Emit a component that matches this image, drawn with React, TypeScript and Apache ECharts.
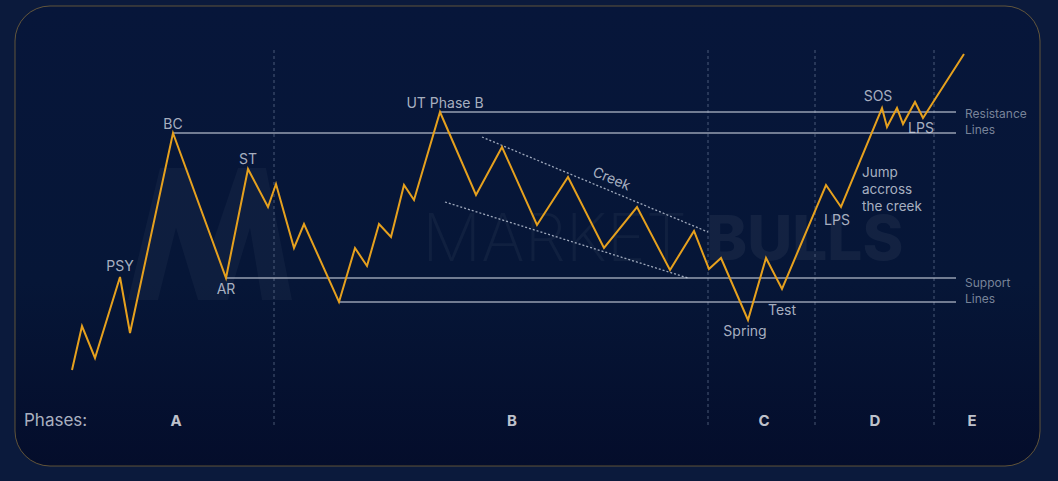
import React, { useEffect, useRef } from "react";
import * as echarts from "echarts";

// Price path (x = time units, y = chart units, inverted axis)
const pathX = [72, 82, 95, 120, 130, 173, 226, 248, 268, 276, 294, 304, 339, 355, 367, 379, 391, 404, 414, 440, 476, 502, 537, 568, 604, 637, 670, 694, 709, 721, 748, 766, 782, 826, 841, 882, 887, 897, 903, 915, 923, 964];
const pathY = [370, 326, 358, 277, 333, 133, 278, 169, 207, 184, 248, 224, 302, 248, 266, 224, 237, 185, 200, 112, 195, 147, 225, 177, 248, 207, 270, 231, 269, 258, 320, 258, 289, 185, 207, 108, 127, 108, 124, 102, 118, 54];

// Horizontal levels: start x, common end x, level y
const levelStarts = [440, 173, 226, 339];
const levelEnd = 956;
const levelYs = [112, 133, 278, 302];

// Creek channel lines: [x1, y1, x2, y2]
const creekUpper = [482, 137, 708, 232];
const creekLower = [445, 202, 688, 278];

// Phase separators
const phaseDividers = [274, 708, 815, 934];
const dividerTop = 50;
const dividerBottom = 427;

// Point annotations
const annoNames = ["PSY", "BC", "ST", "AR", "UT Phase B", "SOS", "LPS", "LPS", "Test", "Spring"];
const annoX = [120, 173, 248, 226, 445, 878, 921, 837, 782, 745];
const annoY = [265, 123, 158, 288, 102, 95, 127, 219, 309, 330];

// "Jump accross the creek" note, one line each
const noteLines = ["Jump", "accross", "the creek"];
const noteX = 862;
const noteY = [172, 189, 206];

// Level captions
const levelCaptions = ["Resistance", "Lines", "Support", "Lines"];
const captionX = 965;
const captionY = [113, 129, 282, 298];

// Phase row
const phaseNames = ["A", "B", "C", "D", "E"];
const phaseX = [176, 512, 764, 875, 972];
const phaseRowY = 420;

export default function App() {
  const ref = useRef<HTMLDivElement>(null);
  useEffect(() => {
    if (!ref.current) return;
    const chart = echarts.init(ref.current, null, { renderer: "svg" });
    const series: any[] = [];
    const gridLine = "rgba(205,212,225,0.72)";

    phaseDividers.forEach((x) => {
      series.push({
        type: "line",
        data: [[x, dividerTop], [x, dividerBottom]],
        symbol: "none",
        silent: true,
        lineStyle: { color: "rgba(140,155,185,0.5)", width: 1, type: [3, 3] },
        z: 1,
      });
    });

    levelYs.forEach((y, i) => {
      series.push({
        type: "line",
        data: [[levelStarts[i], y], [levelEnd, y]],
        symbol: "none",
        silent: true,
        lineStyle: { color: gridLine, width: 1.6 },
        z: 2,
      });
    });

    [creekUpper, creekLower].forEach((c) => {
      series.push({
        type: "line",
        data: [[c[0], c[1]], [c[2], c[3]]],
        symbol: "none",
        silent: true,
        lineStyle: { color: "rgba(210,218,232,0.75)", width: 1.3, type: [2, 2] },
        z: 2,
      });
    });

    series.push({
      type: "line",
      data: pathX.map((x, i) => [x, pathY[i]]),
      symbol: "none",
      lineStyle: { color: "#e6a11e", width: 2, join: "miter" },
      z: 5,
    });

    const labelStyle = {
      show: true,
      position: "inside",
      formatter: "{b}",
      color: "#d3d9e3",
      fontSize: 14,
      fontFamily: "Inter",
    };
    const textSeries = (data: any[], label: any) => ({
      type: "scatter",
      symbolSize: 1,
      itemStyle: { color: "transparent" },
      data,
      label: { ...labelStyle, ...label },
      z: 6,
    });

    series.push(textSeries(annoNames.map((n, i) => ({ name: n, value: [annoX[i], annoY[i]] })), {}));
    series.push(textSeries([{ name: "Creek", value: [612, 178] }], { rotate: -23 }));
    series.push(
      textSeries(
        noteLines.map((n, i) => ({ name: n, value: [noteX, noteY[i]] })),
        { align: "left", fontSize: 13.5 }
      )
    );
    series.push(
      textSeries(
        levelCaptions.map((n, i) => ({ name: n, value: [captionX, captionY[i]] })),
        { align: "left", fontSize: 12, color: "#97a1b3" }
      )
    );
    series.push(
      textSeries([{ name: "Phases:", value: [24, phaseRowY] }], {
        align: "left",
        fontSize: 17,
        color: "#d8dde6",
      })
    );
    series.push(
      textSeries(
        phaseNames.map((n, i) => ({ name: n, value: [phaseX[i], phaseRowY] })),
        { fontSize: 15, fontWeight: "bold", color: "#f2f4f8" }
      )
    );

    chart.setOption({
      animation: false,
      backgroundColor: "#0b1a3c",
      grid: { left: 0, right: 0, top: 0, bottom: 0, containLabel: false },
      xAxis: { type: "value", min: 0, max: 1058, show: false },
      yAxis: { type: "value", min: 0, max: 481, inverse: true, show: false },
      graphic: [
        {
          type: "rect",
          z: -10,
          shape: { x: 15, y: 6, width: 1025, height: 460, r: 35 },
          style: {
            fill: new echarts.graphic.LinearGradient(0, 0, 0, 1, [
              { offset: 0, color: "#07163a" },
              { offset: 0.6, color: "#061637" },
              { offset: 1, color: "#040d2b" },
            ]),
            stroke: "rgba(170,135,60,0.55)",
            lineWidth: 1,
          },
        },
        {
          type: "polygon",
          z: -5,
          shape: {
            points: [
              [128, 300], [160, 168], [188, 168], [212, 245], [238, 168], [266, 168], [292, 300],
              [262, 300], [250, 228], [228, 300], [198, 300], [176, 228], [158, 300],
            ],
          },
          style: { fill: "rgba(255,255,255,0.035)" },
        },
        {
          type: "text",
          z: -5,
          x: 422,
          y: 237,
          style: {
            text: "MARKET",
            fill: "rgba(255,255,255,0.045)",
            font: "200 66px Inter",
            verticalAlign: "middle",
          },
        },
        {
          type: "text",
          z: -5,
          x: 706,
          y: 237,
          style: {
            text: "BULLS",
            fill: "rgba(255,255,255,0.055)",
            font: "800 62px Inter",
            verticalAlign: "middle",
          },
        },
      ],
      series,
    });
    return () => chart.dispose();
  }, []);
  return (
    <div
      ref={ref}
      style={{ position: "fixed", left: 0, top: 0, width: 1058, height: 481 }}
    />
  );
}
